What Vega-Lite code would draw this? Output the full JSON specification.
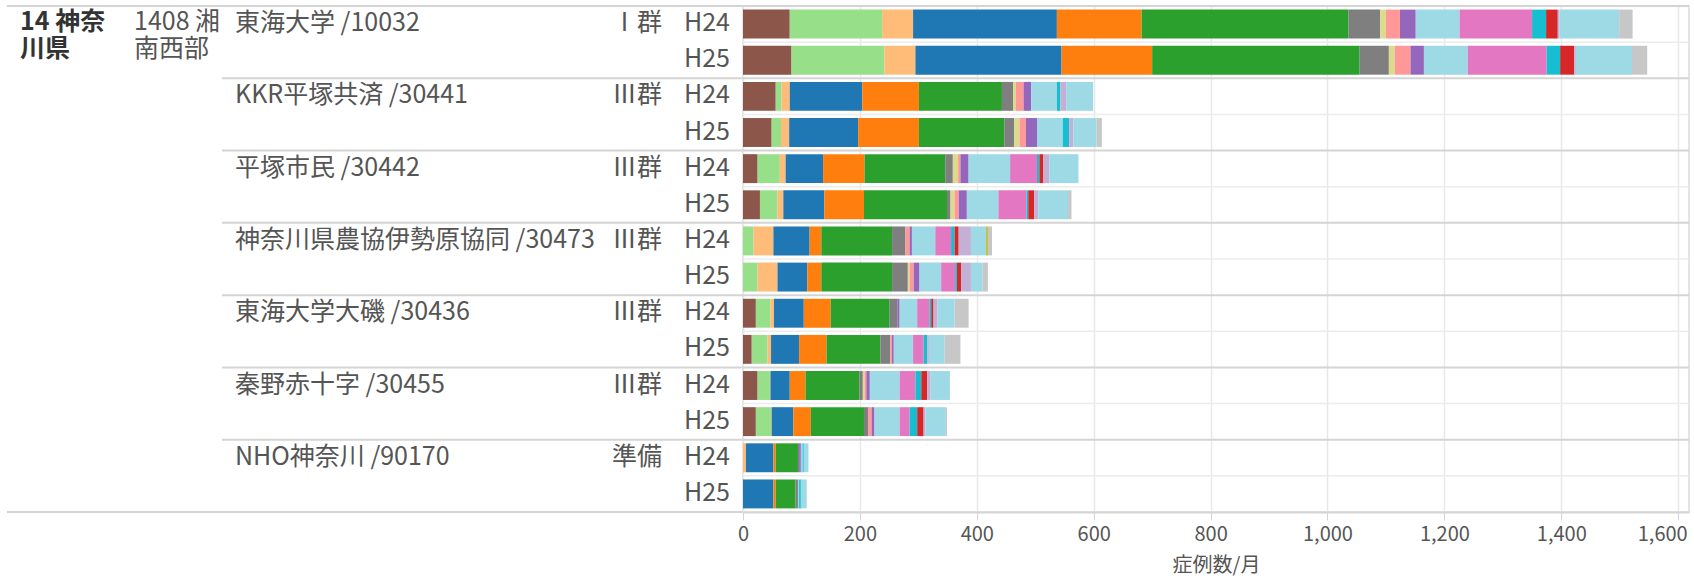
{
  "$schema": "https://vega.github.io/schema/vega-lite/v6.json",
  "padding": {"left": 6, "right": 6, "top": 4, "bottom": 0},
  "spacing": 0,
  "bounds": "flush",
  "config": {"view": {"stroke": null}, "font": "Noto Sans CJK JP", "concat": {"spacing": 0}},
  "datasets": {
    "rows": [
      {"row": "1-H24", "hosp": "東海大学 /10032", "grp": "Ⅰ群", "year": "H24"},
      {"row": "1-H25", "hosp": "東海大学 /10032", "grp": "Ⅰ群", "year": "H25"},
      {"row": "2-H24", "hosp": "KKR平塚共済 /30441", "grp": "Ⅲ群", "year": "H24"},
      {"row": "2-H25", "hosp": "KKR平塚共済 /30441", "grp": "Ⅲ群", "year": "H25"},
      {"row": "3-H24", "hosp": "平塚市民 /30442", "grp": "Ⅲ群", "year": "H24"},
      {"row": "3-H25", "hosp": "平塚市民 /30442", "grp": "Ⅲ群", "year": "H25"},
      {"row": "4-H24", "hosp": "神奈川県農協伊勢原協同 /30473", "grp": "Ⅲ群", "year": "H24"},
      {"row": "4-H25", "hosp": "神奈川県農協伊勢原協同 /30473", "grp": "Ⅲ群", "year": "H25"},
      {"row": "5-H24", "hosp": "東海大学大磯 /30436", "grp": "Ⅲ群", "year": "H24"},
      {"row": "5-H25", "hosp": "東海大学大磯 /30436", "grp": "Ⅲ群", "year": "H25"},
      {"row": "6-H24", "hosp": "秦野赤十字 /30455", "grp": "Ⅲ群", "year": "H24"},
      {"row": "6-H25", "hosp": "秦野赤十字 /30455", "grp": "Ⅲ群", "year": "H25"},
      {"row": "7-H24", "hosp": "NHO神奈川 /90170", "grp": "準備", "year": "H24"},
      {"row": "7-H25", "hosp": "NHO神奈川 /90170", "grp": "準備", "year": "H25"}
    ],
    "bars": [
      {"row": "1-H24", "mdc": "01", "v": 80}, {"row": "1-H24", "mdc": "02", "v": 158}, {"row": "1-H24", "mdc": "03", "v": 53}, {"row": "1-H24", "mdc": "04", "v": 246}, {"row": "1-H24", "mdc": "05", "v": 145}, {"row": "1-H24", "mdc": "06", "v": 354}, {"row": "1-H24", "mdc": "07", "v": 54}, {"row": "1-H24", "mdc": "08", "v": 10}, {"row": "1-H24", "mdc": "09", "v": 24}, {"row": "1-H24", "mdc": "10", "v": 27}, {"row": "1-H24", "mdc": "11", "v": 75}, {"row": "1-H24", "mdc": "12", "v": 124}, {"row": "1-H24", "mdc": "13", "v": 24}, {"row": "1-H24", "mdc": "14", "v": 20}, {"row": "1-H24", "mdc": "15", "v": 3}, {"row": "1-H24", "mdc": "16", "v": 102}, {"row": "1-H24", "mdc": "18", "v": 23},
      {"row": "1-H25", "mdc": "01", "v": 83}, {"row": "1-H25", "mdc": "02", "v": 159}, {"row": "1-H25", "mdc": "03", "v": 53}, {"row": "1-H25", "mdc": "04", "v": 250}, {"row": "1-H25", "mdc": "05", "v": 155}, {"row": "1-H25", "mdc": "06", "v": 355}, {"row": "1-H25", "mdc": "07", "v": 50}, {"row": "1-H25", "mdc": "08", "v": 10}, {"row": "1-H25", "mdc": "09", "v": 27}, {"row": "1-H25", "mdc": "10", "v": 23}, {"row": "1-H25", "mdc": "11", "v": 75}, {"row": "1-H25", "mdc": "12", "v": 135}, {"row": "1-H25", "mdc": "13", "v": 23}, {"row": "1-H25", "mdc": "14", "v": 24}, {"row": "1-H25", "mdc": "15", "v": 3}, {"row": "1-H25", "mdc": "16", "v": 96}, {"row": "1-H25", "mdc": "18", "v": 26},
      {"row": "2-H24", "mdc": "01", "v": 56}, {"row": "2-H24", "mdc": "02", "v": 10}, {"row": "2-H24", "mdc": "03", "v": 14}, {"row": "2-H24", "mdc": "04", "v": 124}, {"row": "2-H24", "mdc": "05", "v": 97}, {"row": "2-H24", "mdc": "06", "v": 142}, {"row": "2-H24", "mdc": "07", "v": 19}, {"row": "2-H24", "mdc": "08", "v": 5}, {"row": "2-H24", "mdc": "09", "v": 13}, {"row": "2-H24", "mdc": "10", "v": 13}, {"row": "2-H24", "mdc": "11", "v": 44}, {"row": "2-H24", "mdc": "13", "v": 6}, {"row": "2-H24", "mdc": "15", "v": 10}, {"row": "2-H24", "mdc": "16", "v": 46},
      {"row": "2-H25", "mdc": "01", "v": 49}, {"row": "2-H25", "mdc": "02", "v": 16}, {"row": "2-H25", "mdc": "03", "v": 14}, {"row": "2-H25", "mdc": "04", "v": 118}, {"row": "2-H25", "mdc": "05", "v": 104}, {"row": "2-H25", "mdc": "06", "v": 146}, {"row": "2-H25", "mdc": "07", "v": 17}, {"row": "2-H25", "mdc": "08", "v": 9}, {"row": "2-H25", "mdc": "09", "v": 11}, {"row": "2-H25", "mdc": "10", "v": 19}, {"row": "2-H25", "mdc": "11", "v": 44}, {"row": "2-H25", "mdc": "13", "v": 11}, {"row": "2-H25", "mdc": "15", "v": 7}, {"row": "2-H25", "mdc": "16", "v": 40}, {"row": "2-H25", "mdc": "18", "v": 9},
      {"row": "3-H24", "mdc": "01", "v": 25}, {"row": "3-H24", "mdc": "02", "v": 38}, {"row": "3-H24", "mdc": "03", "v": 10}, {"row": "3-H24", "mdc": "04", "v": 64}, {"row": "3-H24", "mdc": "05", "v": 71}, {"row": "3-H24", "mdc": "06", "v": 138}, {"row": "3-H24", "mdc": "07", "v": 13}, {"row": "3-H24", "mdc": "08", "v": 9}, {"row": "3-H24", "mdc": "09", "v": 4}, {"row": "3-H24", "mdc": "10", "v": 14}, {"row": "3-H24", "mdc": "11", "v": 71}, {"row": "3-H24", "mdc": "12", "v": 46}, {"row": "3-H24", "mdc": "13", "v": 4}, {"row": "3-H24", "mdc": "14", "v": 7}, {"row": "3-H24", "mdc": "15", "v": 10}, {"row": "3-H24", "mdc": "16", "v": 50},
      {"row": "3-H25", "mdc": "01", "v": 29}, {"row": "3-H25", "mdc": "02", "v": 30}, {"row": "3-H25", "mdc": "03", "v": 10}, {"row": "3-H25", "mdc": "04", "v": 70}, {"row": "3-H25", "mdc": "05", "v": 68}, {"row": "3-H25", "mdc": "06", "v": 142}, {"row": "3-H25", "mdc": "07", "v": 6}, {"row": "3-H25", "mdc": "08", "v": 7}, {"row": "3-H25", "mdc": "09", "v": 7}, {"row": "3-H25", "mdc": "10", "v": 14}, {"row": "3-H25", "mdc": "11", "v": 54}, {"row": "3-H25", "mdc": "12", "v": 48}, {"row": "3-H25", "mdc": "13", "v": 3}, {"row": "3-H25", "mdc": "14", "v": 10}, {"row": "3-H25", "mdc": "15", "v": 7}, {"row": "3-H25", "mdc": "16", "v": 51}, {"row": "3-H25", "mdc": "18", "v": 6},
      {"row": "4-H24", "mdc": "02", "v": 18}, {"row": "4-H24", "mdc": "03", "v": 34}, {"row": "4-H24", "mdc": "04", "v": 62}, {"row": "4-H24", "mdc": "05", "v": 20}, {"row": "4-H24", "mdc": "06", "v": 121}, {"row": "4-H24", "mdc": "07", "v": 23}, {"row": "4-H24", "mdc": "09", "v": 7}, {"row": "4-H24", "mdc": "10", "v": 4}, {"row": "4-H24", "mdc": "11", "v": 40}, {"row": "4-H24", "mdc": "12", "v": 27}, {"row": "4-H24", "mdc": "13", "v": 6}, {"row": "4-H24", "mdc": "14", "v": 7}, {"row": "4-H24", "mdc": "15", "v": 21}, {"row": "4-H24", "mdc": "16", "v": 26}, {"row": "4-H24", "mdc": "17", "v": 3}, {"row": "4-H24", "mdc": "18", "v": 7},
      {"row": "4-H25", "mdc": "02", "v": 25}, {"row": "4-H25", "mdc": "03", "v": 34}, {"row": "4-H25", "mdc": "04", "v": 51}, {"row": "4-H25", "mdc": "05", "v": 24}, {"row": "4-H25", "mdc": "06", "v": 121}, {"row": "4-H25", "mdc": "07", "v": 27}, {"row": "4-H25", "mdc": "08", "v": 3}, {"row": "4-H25", "mdc": "09", "v": 7}, {"row": "4-H25", "mdc": "10", "v": 10}, {"row": "4-H25", "mdc": "11", "v": 37}, {"row": "4-H25", "mdc": "12", "v": 24}, {"row": "4-H25", "mdc": "13", "v": 3}, {"row": "4-H25", "mdc": "14", "v": 7}, {"row": "4-H25", "mdc": "15", "v": 17}, {"row": "4-H25", "mdc": "16", "v": 20}, {"row": "4-H25", "mdc": "18", "v": 9},
      {"row": "5-H24", "mdc": "01", "v": 22}, {"row": "5-H24", "mdc": "02", "v": 25}, {"row": "5-H24", "mdc": "03", "v": 6}, {"row": "5-H24", "mdc": "04", "v": 51}, {"row": "5-H24", "mdc": "05", "v": 46}, {"row": "5-H24", "mdc": "06", "v": 101}, {"row": "5-H24", "mdc": "07", "v": 13}, {"row": "5-H24", "mdc": "10", "v": 4}, {"row": "5-H24", "mdc": "11", "v": 30}, {"row": "5-H24", "mdc": "12", "v": 21}, {"row": "5-H24", "mdc": "13", "v": 3}, {"row": "5-H24", "mdc": "14", "v": 4}, {"row": "5-H24", "mdc": "15", "v": 7}, {"row": "5-H24", "mdc": "16", "v": 29}, {"row": "5-H24", "mdc": "18", "v": 24},
      {"row": "5-H25", "mdc": "01", "v": 15}, {"row": "5-H25", "mdc": "02", "v": 27}, {"row": "5-H25", "mdc": "03", "v": 6}, {"row": "5-H25", "mdc": "04", "v": 48}, {"row": "5-H25", "mdc": "05", "v": 47}, {"row": "5-H25", "mdc": "06", "v": 92}, {"row": "5-H25", "mdc": "07", "v": 17}, {"row": "5-H25", "mdc": "09", "v": 3}, {"row": "5-H25", "mdc": "10", "v": 3}, {"row": "5-H25", "mdc": "11", "v": 33}, {"row": "5-H25", "mdc": "12", "v": 18}, {"row": "5-H25", "mdc": "13", "v": 6}, {"row": "5-H25", "mdc": "15", "v": 3}, {"row": "5-H25", "mdc": "16", "v": 27}, {"row": "5-H25", "mdc": "18", "v": 27},
      {"row": "6-H24", "mdc": "01", "v": 25}, {"row": "6-H24", "mdc": "02", "v": 21}, {"row": "6-H24", "mdc": "03", "v": 1}, {"row": "6-H24", "mdc": "04", "v": 33}, {"row": "6-H24", "mdc": "05", "v": 27}, {"row": "6-H24", "mdc": "06", "v": 92}, {"row": "6-H24", "mdc": "07", "v": 6}, {"row": "6-H24", "mdc": "08", "v": 3}, {"row": "6-H24", "mdc": "09", "v": 3}, {"row": "6-H24", "mdc": "10", "v": 6}, {"row": "6-H24", "mdc": "11", "v": 51}, {"row": "6-H24", "mdc": "12", "v": 27}, {"row": "6-H24", "mdc": "13", "v": 10}, {"row": "6-H24", "mdc": "14", "v": 10}, {"row": "6-H24", "mdc": "15", "v": 6}, {"row": "6-H24", "mdc": "16", "v": 33},
      {"row": "6-H25", "mdc": "01", "v": 22}, {"row": "6-H25", "mdc": "02", "v": 26}, {"row": "6-H25", "mdc": "03", "v": 1}, {"row": "6-H25", "mdc": "04", "v": 37}, {"row": "6-H25", "mdc": "05", "v": 30}, {"row": "6-H25", "mdc": "06", "v": 91}, {"row": "6-H25", "mdc": "07", "v": 7}, {"row": "6-H25", "mdc": "09", "v": 6}, {"row": "6-H25", "mdc": "10", "v": 5}, {"row": "6-H25", "mdc": "11", "v": 43}, {"row": "6-H25", "mdc": "12", "v": 17}, {"row": "6-H25", "mdc": "13", "v": 13}, {"row": "6-H25", "mdc": "14", "v": 11}, {"row": "6-H25", "mdc": "15", "v": 3}, {"row": "6-H25", "mdc": "16", "v": 35}, {"row": "6-H25", "mdc": "18", "v": 2},
      {"row": "7-H24", "mdc": "03", "v": 5}, {"row": "7-H24", "mdc": "04", "v": 47}, {"row": "7-H24", "mdc": "05", "v": 4}, {"row": "7-H24", "mdc": "06", "v": 38}, {"row": "7-H24", "mdc": "07", "v": 2}, {"row": "7-H24", "mdc": "10", "v": 3}, {"row": "7-H24", "mdc": "11", "v": 3}, {"row": "7-H24", "mdc": "13", "v": 2}, {"row": "7-H24", "mdc": "16", "v": 8},
      {"row": "7-H25", "mdc": "04", "v": 52}, {"row": "7-H25", "mdc": "05", "v": 4}, {"row": "7-H25", "mdc": "06", "v": 34}, {"row": "7-H25", "mdc": "07", "v": 4}, {"row": "7-H25", "mdc": "11", "v": 2}, {"row": "7-H25", "mdc": "13", "v": 3}, {"row": "7-H25", "mdc": "16", "v": 10}
    ]
  },
  "hconcat": [
    {
      "width": 114, "height": 506,
      "data": {"name": "rows"},
      "layer": [
        {"transform": [{"filter": "datum.row === '1-H24'"}], "mark": {"type": "rule", "color": "#d4d4d4", "strokeWidth": 2}, "encoding": {"y": {"field": "row", "type": "nominal", "bandPosition": 0, "scale": {"type": "band", "domain": ["1-H24","1-H25","2-H24","2-H25","3-H24","3-H25","4-H24","4-H25","5-H24","5-H25","6-H24","6-H25","7-H24","7-H25"], "paddingInner": 0, "paddingOuter": 0}, "axis": null}}},
        {"transform": [{"filter": "datum.row === '7-H25'"}], "mark": {"type": "rule", "color": "#d4d4d4", "strokeWidth": 2}, "encoding": {"y": {"field": "row", "type": "nominal", "bandPosition": 1, "axis": null}}},
        {"data": {"values": [{"row": "1-H24", "t": "14 神奈"}]}, "mark": {"type": "text", "align": "left", "baseline": "middle", "dx": 13, "dy": -2, "fontSize": 25, "fontWeight": "bold", "color": "#333333"}, "encoding": {"y": {"field": "row", "type": "nominal", "axis": null}, "x": {"datum": 0, "type": "quantitative", "scale": {"domain": [0, 1]}, "axis": null}, "text": {"field": "t"}}},
        {"data": {"values": [{"row": "1-H25", "t": "川県"}]}, "mark": {"type": "text", "align": "left", "baseline": "middle", "dx": 13, "dy": -11, "fontSize": 25, "fontWeight": "bold", "color": "#333333"}, "encoding": {"y": {"field": "row", "type": "nominal", "axis": null}, "x": {"datum": 0, "type": "quantitative", "scale": {"domain": [0, 1]}, "axis": null}, "text": {"field": "t"}}}
      ]
    },
    {
      "width": 101, "height": 506,
      "data": {"name": "rows"},
      "layer": [
        {"transform": [{"filter": "datum.row === '1-H24'"}], "mark": {"type": "rule", "color": "#d4d4d4", "strokeWidth": 2}, "encoding": {"y": {"field": "row", "type": "nominal", "bandPosition": 0, "scale": {"type": "band", "domain": ["1-H24","1-H25","2-H24","2-H25","3-H24","3-H25","4-H24","4-H25","5-H24","5-H25","6-H24","6-H25","7-H24","7-H25"], "paddingInner": 0, "paddingOuter": 0}, "axis": null}}},
        {"transform": [{"filter": "datum.row === '7-H25'"}], "mark": {"type": "rule", "color": "#d4d4d4", "strokeWidth": 2}, "encoding": {"y": {"field": "row", "type": "nominal", "bandPosition": 1, "axis": null}}},
        {"data": {"values": [{"row": "1-H24", "t": "1408 湘"}]}, "mark": {"type": "text", "align": "left", "baseline": "middle", "dx": 13, "dy": -2, "fontSize": 25, "color": "#555555"}, "encoding": {"y": {"field": "row", "type": "nominal", "axis": null}, "x": {"datum": 0, "type": "quantitative", "scale": {"domain": [0, 1]}, "axis": null}, "text": {"field": "t"}}},
        {"data": {"values": [{"row": "1-H25", "t": "南西部"}]}, "mark": {"type": "text", "align": "left", "baseline": "middle", "dx": 13, "dy": -11, "fontSize": 25, "color": "#555555"}, "encoding": {"y": {"field": "row", "type": "nominal", "axis": null}, "x": {"datum": 0, "type": "quantitative", "scale": {"domain": [0, 1]}, "axis": null}, "text": {"field": "t"}}}
      ]
    },
    {
      "width": 379, "height": 506,
      "data": {"name": "rows"},
      "layer": [
        {"transform": [{"filter": "datum.year === 'H24'"}], "mark": {"type": "rule", "color": "#d4d4d4", "strokeWidth": 2}, "encoding": {"y": {"field": "row", "type": "nominal", "bandPosition": 0, "scale": {"type": "band", "domain": ["1-H24","1-H25","2-H24","2-H25","3-H24","3-H25","4-H24","4-H25","5-H24","5-H25","6-H24","6-H25","7-H24","7-H25"], "paddingInner": 0, "paddingOuter": 0}, "axis": null}}},
        {"transform": [{"filter": "datum.row === '7-H25'"}], "mark": {"type": "rule", "color": "#d4d4d4", "strokeWidth": 2}, "encoding": {"y": {"field": "row", "type": "nominal", "bandPosition": 1, "axis": null}}},
        {"transform": [{"filter": "datum.year === 'H24'"}], "mark": {"type": "text", "align": "left", "baseline": "middle", "dx": 13, "dy": -1, "fontSize": 25, "color": "#555555"}, "encoding": {"y": {"field": "row", "type": "nominal", "axis": null}, "x": {"datum": 0, "type": "quantitative", "scale": {"domain": [0, 1]}, "axis": null}, "text": {"field": "hosp"}}}
      ]
    },
    {
      "width": 75, "height": 506,
      "data": {"name": "rows"},
      "layer": [
        {"transform": [{"filter": "datum.year === 'H24'"}], "mark": {"type": "rule", "color": "#d4d4d4", "strokeWidth": 2}, "encoding": {"y": {"field": "row", "type": "nominal", "bandPosition": 0, "scale": {"type": "band", "domain": ["1-H24","1-H25","2-H24","2-H25","3-H24","3-H25","4-H24","4-H25","5-H24","5-H25","6-H24","6-H25","7-H24","7-H25"], "paddingInner": 0, "paddingOuter": 0}, "axis": null}}},
        {"transform": [{"filter": "datum.row === '7-H25'"}], "mark": {"type": "rule", "color": "#d4d4d4", "strokeWidth": 2}, "encoding": {"y": {"field": "row", "type": "nominal", "bandPosition": 1, "axis": null}}},
        {"transform": [{"filter": "datum.year === 'H24'"}], "mark": {"type": "text", "align": "right", "baseline": "middle", "dx": -14, "dy": -1, "fontSize": 25, "color": "#555555"}, "encoding": {"y": {"field": "row", "type": "nominal", "axis": null}, "x": {"datum": 1, "type": "quantitative", "scale": {"domain": [0, 1]}, "axis": null}, "text": {"field": "grp"}}}
      ]
    },
    {
      "width": 67, "height": 506,
      "data": {"name": "rows"},
      "layer": [
        {"transform": [{"filter": "datum.year === 'H24'"}], "mark": {"type": "rule", "color": "#d4d4d4", "strokeWidth": 2}, "encoding": {"y": {"field": "row", "type": "nominal", "bandPosition": 0, "scale": {"type": "band", "domain": ["1-H24","1-H25","2-H24","2-H25","3-H24","3-H25","4-H24","4-H25","5-H24","5-H25","6-H24","6-H25","7-H24","7-H25"], "paddingInner": 0, "paddingOuter": 0}, "axis": null}}},
        {"transform": [{"filter": "datum.row === '7-H25'"}], "mark": {"type": "rule", "color": "#d4d4d4", "strokeWidth": 2}, "encoding": {"y": {"field": "row", "type": "nominal", "bandPosition": 1, "axis": null}}},
        {"mark": {"type": "text", "align": "right", "baseline": "middle", "dx": -13, "dy": -1, "fontSize": 25, "color": "#555555"}, "encoding": {"y": {"field": "row", "type": "nominal", "axis": null}, "x": {"datum": 1, "type": "quantitative", "scale": {"domain": [0, 1]}, "axis": null}, "text": {"field": "year"}}}
      ]
    },
    {
      "width": 946, "height": 506,
      "view": {"stroke": "#dcdcdc", "strokeWidth": 1.5},
      "layer": [
        {"data": {"name": "rows"}, "transform": [{"filter": "datum.year === 'H25'"}], "mark": {"type": "rule", "color": "#ececec", "strokeWidth": 1.5}, "encoding": {"y": {"field": "row", "type": "nominal", "bandPosition": 0, "scale": {"type": "band", "domain": ["1-H24","1-H25","2-H24","2-H25","3-H24","3-H25","4-H24","4-H25","5-H24","5-H25","6-H24","6-H25","7-H24","7-H25"], "paddingInner": 0, "paddingOuter": 0}, "axis": null}}},
        {
          "data": {"name": "bars"},
          "mark": {"type": "bar", "height": {"band": 0.8}},
          "encoding": {
            "y": {"field": "row", "type": "nominal", "axis": null},
            "x": {"field": "v", "type": "quantitative", "aggregate": "sum", "stack": "zero",
                  "scale": {"domain": [0, 1618.5], "nice": false},
                  "axis": {"title": "症例数/月", "values": [0, 200, 400, 600, 800, 1000, 1200, 1400, 1600], "format": ",d", "grid": true, "gridColor": "#e8e8e8", "gridWidth": 1.5, "domainColor": "#d4d4d4", "domainWidth": 2, "tickColor": "#d4d4d4", "tickSize": 8, "labelFontSize": 20, "labelColor": "#555555", "labelPadding": 4, "labelAlign": {"expr": "datum.value === 1600 ? 'right' : 'center'"}, "labelOffset": {"expr": "datum.value === 1600 ? 9 : 0"}, "labelOverlap": false, "titleFontSize": 20, "titleColor": "#555555", "titleFontWeight": "normal", "titlePadding": 11}},
            "color": {"field": "mdc", "type": "nominal", "legend": null,
                      "scale": {"domain": ["01","02","03","04","05","06","07","08","09","10","11","12","13","14","15","16","17","18"],
                                "range": ["#8c564b","#98df8a","#ffbb78","#1f77b4","#ff7f0e","#2ca02c","#7f7f7f","#dbdb8d","#ff9896","#9467bd","#9edae5","#e377c2","#17becf","#d62728","#c5b0d5","#9edae5","#bcbd22","#c7c7c7"]}},
            "order": {"field": "mdc", "sort": "ascending"}
          }
        },
        {"data": {"name": "rows"}, "transform": [{"filter": "datum.year === 'H24'"}], "mark": {"type": "rule", "color": "#d4d4d4", "strokeWidth": 2}, "encoding": {"y": {"field": "row", "type": "nominal", "bandPosition": 0, "axis": null}}}
      ]
    }
  ]
}
